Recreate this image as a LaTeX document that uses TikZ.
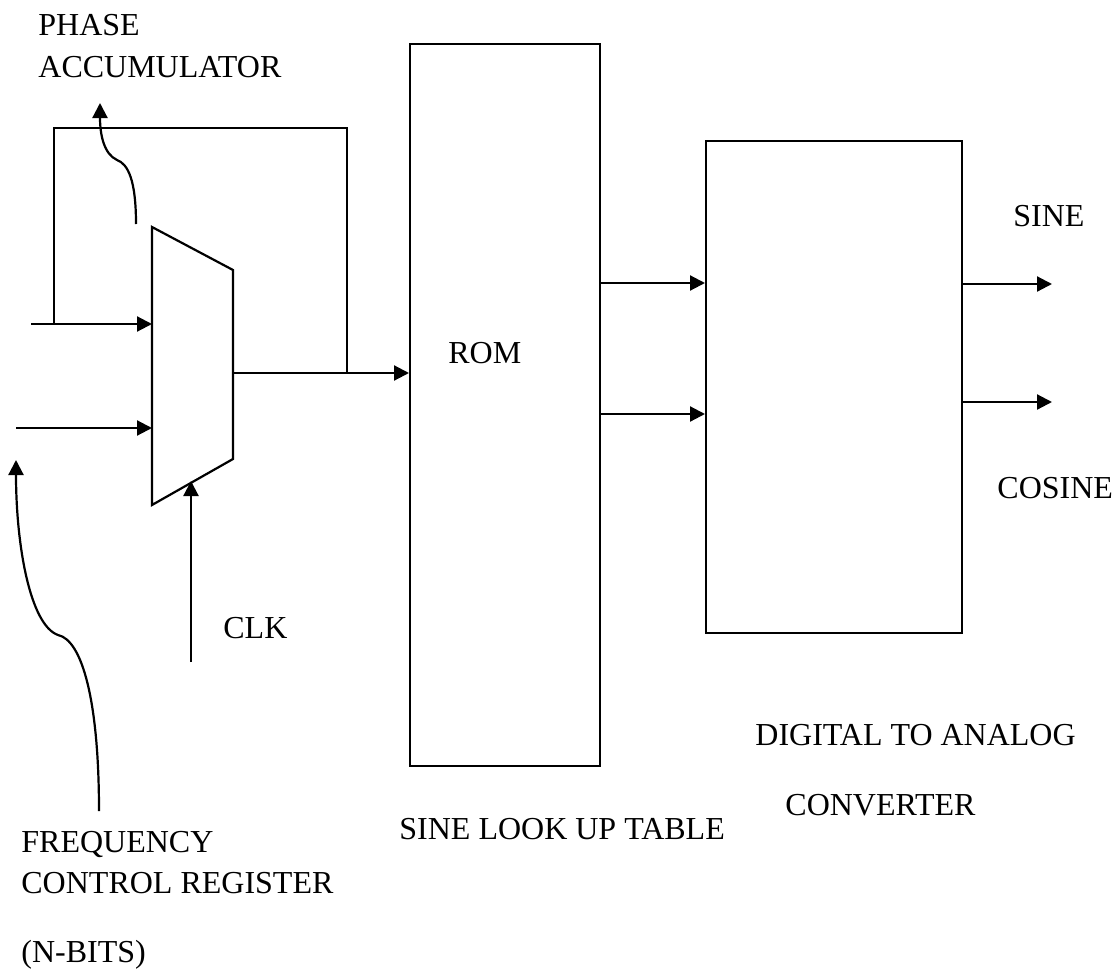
\documentclass[tikz,border=0pt]{standalone}
\usepackage{fontspec}
\setmainfont{Liberation Serif}
\usetikzlibrary{positioning, calc, arrows.meta}

\begin{document}
\begin{tikzpicture}[x=0.5pt, y=-0.5pt,
    blk/.style={draw, line width=1pt, inner sep=0pt},
    wire/.style={line width=1.1pt},
    arr/.style={wire, -{Triangle[length=7.5pt, width=7.5pt]}},
    lbl/.style={anchor=base west, inner sep=0pt, font=\fontsize{16}{19}\selectfont}
  ]
  \useasboundingbox (0,0) rectangle (1115,969);

  % phase accumulator (trapezoid)
  \coordinate (tl) at (152,227);
  \coordinate (tr) at (233,270);
  \coordinate (br) at (233,459);
  \coordinate (bl) at (152,505);
  \draw[wire] (tl) -- (tr) -- (br) -- (bl) -- cycle;

  \coordinate (in1)  at (152,324);
  \coordinate (in2)  at (152,428);
  \coordinate (out)  at (233,373);
  \coordinate (clkin) at (191,481);
  \coordinate (src1) at (31,324);
  \coordinate (src2) at (16,428);
  \coordinate (clksrc) at (191,662);
  \coordinate (fbtap) at (347,373);
  \coordinate (fbtop) at (200,128);
  \coordinate (fbL)  at (54,324);

  % blocks
  \node[blk, minimum width=95pt, minimum height=361pt] (rom) at (505,405) {};
  \node[blk, minimum width=128pt, minimum height=246pt] (dac) at (834,387) {};

  \coordinate (y1) at (0,283);
  \coordinate (y2) at (0,414);
  \coordinate (sine)   at (1052,284);
  \coordinate (cosine) at (1052,402);

  % connectors
  \draw[arr] (src1) -- (in1);
  \draw[arr] (src2) -- (in2);
  \draw[arr] (clksrc) -- (clkin);
  \draw[wire] (fbtap) |- (fbtop) -| (fbL);
  \draw[arr] (out) -- (out -| rom.west);
  \draw[arr] (rom.east |- y1) -- (dac.west |- y1);
  \draw[arr] (rom.east |- y2) -- (dac.west |- y2);
  \draw[arr] (dac.east |- sine) -- (sine);
  \draw[arr] (dac.east |- cosine) -- (cosine);

  % pointer curves
  \coordinate (pa) at (136,224);
  \coordinate (pb) at (117,160);
  \coordinate (pc) at (100,103);
  \draw[arr] (pa) .. controls (136,180) and (128,164) .. (pb)
                  .. controls (104,154) and (100,135) .. (pc);
  \coordinate (fa) at (99,811);
  \coordinate (fb) at (58,635);
  \coordinate (fc) at (16,460);
  \draw[arr] (fa) .. controls (99,700) and (82,640) .. (fb)
                  .. controls (30,625) and (16,545) .. (fc);

  % labels
  \node[lbl] (lphase) at (38,35)  {PHASE};
  \node[lbl] (lacc)   at (38,77)  {ACCUMULATOR};
  \node[lbl] (lrom)   at (448,363) {ROM};
  \node[lbl] (lclk)   at (223,638) {CLK};
  \node[lbl] (lsine)  at (1013,226) {SINE};
  \node[lbl] (lcos)   at (997,498) {COSINE};
  \node[lbl] (lfreq)  at (21,852) {FREQUENCY};
  \node[lbl] (lreg)   at (21,893) {CONTROL REGISTER};
  \node[lbl] (lbits)  at (21,962) {(N-BITS)};
  \node[lbl] (llut)   at (399,839) {SINE LOOK UP TABLE};
  \node[lbl] (ldig)   at (755,745) {DIGITAL TO ANALOG};
  \node[lbl] (lconv)  at (785,815) {CONVERTER};
\end{tikzpicture}
\end{document}
